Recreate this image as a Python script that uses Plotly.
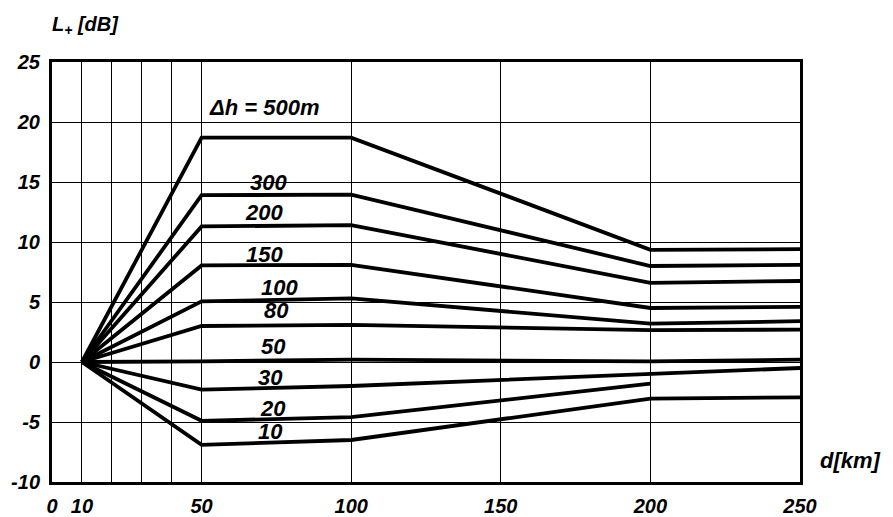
import plotly.graph_objects as go

# distance breakpoints [km]
d_points = [10, 50, 100, 200, 250]
# series: height difference label -> L+ values [dB] at d_points
series_labels = ["500", "300", "200", "150", "100", "80", "50", "30", "20", "10"]
v500 = [0, 18.7, 18.7, 9.35, 9.4]
v300 = [0, 13.9, 13.95, 8.0, 8.1]
v200 = [0, 11.3, 11.4, 6.6, 6.75]
v150 = [0, 8.05, 8.1, 4.5, 4.6]
v100 = [0, 5.05, 5.3, 3.2, 3.4]
v80 = [0, 3.0, 3.1, 2.65, 2.7]
v50 = [0, 0.05, 0.2, 0.05, 0.2]
v30 = [0, -2.3, -2.0, -0.95, -0.5]
v20 = [0, -4.9, -4.6, -1.8, None]
v10 = [0, -6.9, -6.5, -3.05, -2.95]
series_values = [v500, v300, v200, v150, v100, v80, v50, v30, v20, v10]

# label texts and their positions (data units)
label_texts = ["Δh = 500m", "300", "200", "150", "100", "80", "50", "30", "20", "10"]
label_x = [71, 72.5, 71, 71, 76, 75, 74, 73, 74, 73]
label_y = [21.2, 15.0, 12.5, 9.0, 6.25, 4.3, 1.3, -1.25, -3.9, -5.8]

x_tickvals = [0, 10, 50, 100, 150, 200, 250]
x_ticktext = ["0", "10", "50", "100", "150", "200", "250"]
x_minor_grid = [20, 30, 40]
y_tickvals = [-10, -5, 0, 5, 10, 15, 20, 25]
y_ticktext = ["-10", "-5", "0", "5", "10", "15", "20", "25"]

FONT = "Liberation Sans Narrow, Liberation Sans, DejaVu Sans"

# page body has an 8px margin; compensate so the plot lands where the reference has it
OFF = 8
W, H = 893 - OFF, 517 - OFF
ml, mt = 52 - OFF, 62 - OFF
pw, ph = 748, 420
mr, mb = W - ml - pw, H - mt - ph


def px_to_paper(px, py):
    return (px - OFF - ml) / pw, 1 - (py - OFF - mt) / ph


fig = go.Figure()
for name, vals in zip(series_labels, series_values):
    xs = [x for x, v in zip(d_points, vals) if v is not None]
    ys = [v for v in vals if v is not None]
    fig.add_trace(go.Scatter(x=xs, y=ys, mode="lines", name=name,
                             line=dict(color="black", width=3.8),
                             showlegend=False, hoverinfo="skip"))

for t, x, y in zip(label_texts, label_x, label_y):
    fig.add_annotation(x=x, y=y, xref="x", yref="y", text=t, showarrow=False,
                       font=dict(family=FONT, size=22, color="black",
                                 style="italic", weight="bold"))

ax, ay = px_to_paper(85, 25)
fig.add_annotation(x=ax, y=ay, xref="paper", yref="paper", text="L<sub>+</sub> [dB]",
                   showarrow=False, xanchor="center", yanchor="middle",
                   font=dict(family=FONT, size=20, color="black",
                             style="italic", weight="bold"))
bx, by = px_to_paper(850, 460)
fig.add_annotation(x=bx, y=by, xref="paper", yref="paper", text="d[km]",
                   showarrow=False, xanchor="center", yanchor="middle",
                   font=dict(family=FONT, size=22, color="black",
                             style="italic", weight="bold"))

tickfont = dict(family=FONT, size=20, color="black", style="italic", weight="bold")
fig.update_layout(
    width=W, height=H,
    margin=dict(l=ml, r=mr, t=mt, b=mb, autoexpand=False),
    paper_bgcolor="white", plot_bgcolor="white",
    xaxis=dict(range=[0, 250], tickvals=x_tickvals, ticktext=x_ticktext,
               showgrid=True, gridcolor="black", gridwidth=1.2,
               minor=dict(tickvals=x_minor_grid, showgrid=True,
                          gridcolor="black", gridwidth=1.2, ticks=""),
               showline=True, linecolor="black", linewidth=3, mirror=True,
               ticks="", ticklen=0, zeroline=False, ticklabelstandoff=4,
               automargin=False, tickfont=tickfont),
    yaxis=dict(range=[-10, 25], tickvals=y_tickvals, ticktext=y_ticktext,
               showgrid=True, gridcolor="black", gridwidth=1.2,
               showline=True, linecolor="black", linewidth=3, mirror=True,
               ticks="", ticklen=0, zeroline=False, ticklabelstandoff=5,
               automargin=False, tickfont=tickfont),
)

fig.write_html("out.html")
